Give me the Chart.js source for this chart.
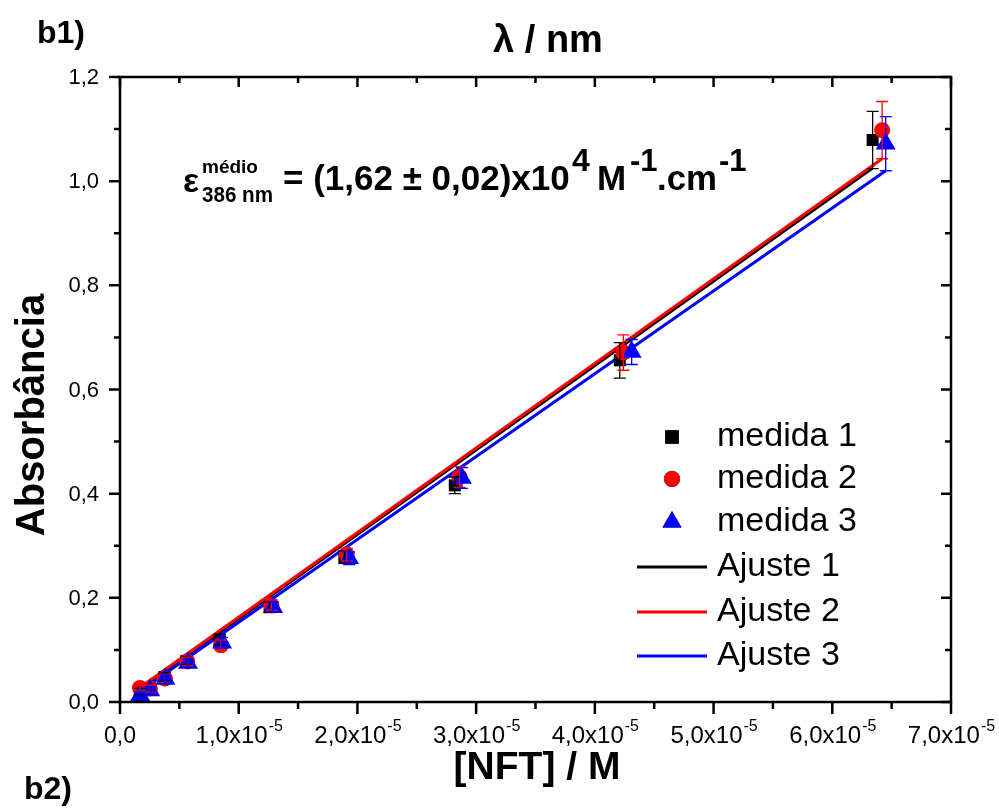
<!DOCTYPE html>
<html>
<head>
<meta charset="utf-8">
<script src="https://cdn.jsdelivr.net/npm/chart.js@4.4.0/dist/chart.umd.min.js"></script>
<style>
  body { margin: 0; background: #fff; }
  canvas { display: block; }
</style>
</head>
<body>
<canvas id="grafico" width="999" height="812"></canvas>
<script>
// concentracoes [NFT] / M e absorbancias
const conc1 = [0.167e-5, 0.25e-5, 0.375e-5, 0.56e-5, 0.84e-5, 1.26e-5, 1.89e-5, 2.82e-5, 4.21e-5, 6.34e-5];
const abs1  = [0.020, 0.027, 0.048, 0.079, 0.120, 0.182, 0.278, 0.416, 0.656, 1.079];
const err1  = [0.006, 0.007, 0.008, 0.008, 0.010, 0.010, 0.012, 0.016, 0.034, 0.055];

const conc2 = [0.168e-5, 0.252e-5, 0.378e-5, 0.567e-5, 0.85e-5, 1.275e-5, 1.91e-5, 2.86e-5, 4.24e-5, 6.42e-5];
const abs2  = [0.027, 0.026, 0.045, 0.078, 0.109, 0.186, 0.283, 0.432, 0.671, 1.098];
const err2  = [0.006, 0.007, 0.008, 0.008, 0.010, 0.010, 0.012, 0.020, 0.034, 0.055];

const conc3 = [0.17e-5, 0.255e-5, 0.382e-5, 0.573e-5, 0.86e-5, 1.29e-5, 1.93e-5, 2.88e-5, 4.31e-5, 6.45e-5];
const abs3  = [0.013, 0.022, 0.044, 0.075, 0.114, 0.182, 0.276, 0.430, 0.672, 1.072];
const err3  = [0.006, 0.007, 0.008, 0.008, 0.010, 0.010, 0.012, 0.020, 0.024, 0.052];

// retas de ajuste (inicio e fim)
const ajusteX1 = [0.167e-5, 6.34e-5];
const ajusteY1 = [0.025, 1.025];
const ajusteX2 = [0.168e-5, 6.42e-5];
const ajusteY2 = [0.028, 1.043];
const ajusteX3 = [0.17e-5, 6.45e-5];
const ajusteY3 = [0.021, 1.020];

const nomesMedidas = ["medida 1", "medida 2", "medida 3"];
const nomesAjustes = ["Ajuste 1", "Ajuste 2", "Ajuste 3"];

const FONTE = "'Liberation Sans', Arial, sans-serif";
const cores = ["#000000", "#ff0000", "#0000ff"];

function pontos(xs, ys) {
  return xs.map((x, i) => ({ x: x, y: ys[i] }));
}

function medida(i, conc, abs, err, estilo, raio) {
  return {
    label: nomesMedidas[i],
    data: pontos(conc, abs),
    erros: err,
    showLine: false,
    pointStyle: estilo,
    pointRadius: raio,
    pointBackgroundColor: cores[i],
    pointBorderColor: cores[i],
    pointBorderWidth: 0,
    order: 2 - i,
  };
}

function ajuste(i, xs, ys) {
  return {
    label: nomesAjustes[i],
    data: pontos(xs, ys),
    showLine: true,
    borderColor: cores[i],
    borderWidth: 3,
    pointRadius: 0,
    order: 5 - i,
  };
}

// barras de erro
const barrasErro = {
  id: "barrasErro",
  afterDatasetsDraw(chart) {
    const ctx = chart.ctx;
    const y = chart.scales.y;
    chart.data.datasets.forEach((ds, i) => {
      if (!ds.erros) return;
      const meta = chart.getDatasetMeta(i);
      ctx.save();
      ctx.strokeStyle = ds.pointBackgroundColor;
      ctx.lineWidth = 1.3;
      meta.data.forEach((pt, j) => {
        const e = ds.erros[j];
        const top = y.getPixelForValue(ds.data[j].y + e);
        const bot = y.getPixelForValue(ds.data[j].y - e);
        ctx.beginPath();
        ctx.moveTo(pt.x, top); ctx.lineTo(pt.x, bot);
        ctx.moveTo(pt.x - 6, top); ctx.lineTo(pt.x + 6, top);
        ctx.moveTo(pt.x - 6, bot); ctx.lineTo(pt.x + 6, bot);
        ctx.stroke();
      });
      ctx.restore();
    });
  }
};

function menores(ticks) {
  const m = [];
  for (let i = 0; i < ticks.length - 1; i++) m.push((ticks[i].value + ticks[i + 1].value) / 2);
  return m;
}

// moldura, marcas e rotulos dos eixos
const eixos = {
  id: "eixos",
  afterDraw(chart) {
    const ctx = chart.ctx;
    const a = chart.chartArea;
    const x = chart.scales.x;
    const y = chart.scales.y;
    ctx.save();
    ctx.strokeStyle = "#000";
    ctx.lineWidth = 2.5;
    ctx.strokeRect(a.left, a.top, a.right - a.left, a.bottom - a.top);

    ctx.beginPath();
    x.ticks.forEach(t => {
      const px = x.getPixelForValue(t.value);
      ctx.moveTo(px, a.bottom); ctx.lineTo(px, a.bottom + 12);
      ctx.moveTo(px, a.top); ctx.lineTo(px, a.top + 10);
    });
    menores(x.ticks).forEach(v => {
      const px = x.getPixelForValue(v);
      ctx.moveTo(px, a.bottom); ctx.lineTo(px, a.bottom + 7);
      ctx.moveTo(px, a.top); ctx.lineTo(px, a.top + 6);
    });
    y.ticks.forEach(t => {
      const py = y.getPixelForValue(t.value);
      ctx.moveTo(a.left, py); ctx.lineTo(a.left - 11, py);
      ctx.moveTo(a.right, py); ctx.lineTo(a.right - 10, py);
    });
    menores(y.ticks).forEach(v => {
      const py = y.getPixelForValue(v);
      ctx.moveTo(a.left, py); ctx.lineTo(a.left - 6, py);
      ctx.moveTo(a.right, py); ctx.lineTo(a.right - 6, py);
    });
    ctx.stroke();

    // rotulos do eixo y
    ctx.fillStyle = "#000";
    ctx.font = "22px " + FONTE;
    ctx.textAlign = "right";
    ctx.textBaseline = "middle";
    y.ticks.forEach(t => {
      ctx.fillText(t.value.toFixed(1).replace(".", ","), a.left - 21, y.getPixelForValue(t.value) + 1);
    });

    // rotulos do eixo x com expoente
    ctx.textBaseline = "alphabetic";
    ctx.textAlign = "left";
    x.ticks.forEach(t => {
      const px = x.getPixelForValue(t.value);
      const base = a.bottom + 41;
      if (Math.abs(t.value) < 1e-12) {
        ctx.font = "23px " + FONTE;
        ctx.textAlign = "center";
        ctx.fillText("0,0", px, base);
        ctx.textAlign = "left";
        return;
      }
      const mant = (t.value / 1e-5).toFixed(1).replace(".", ",") + "x10";
      ctx.font = "24px " + FONTE;
      const w1 = ctx.measureText(mant).width;
      ctx.font = "16px " + FONTE;
      const w2 = ctx.measureText("-5").width;
      const x0 = px - (w1 + w2) / 2;
      ctx.font = "24px " + FONTE;
      ctx.fillText(mant, x0, base);
      ctx.font = "16px " + FONTE;
      ctx.fillText("-5", x0 + w1 + 1, base - 12);
    });
    ctx.restore();
  }
};

// legenda desenhada dentro da area do grafico
const legenda = {
  id: "legenda",
  afterDraw(chart) {
    const ctx = chart.ctx;
    const linhas = [437, 479, 522, 567, 612, 656];
    ctx.save();
    ctx.font = "34px " + FONTE;
    ctx.fillStyle = "#000";
    ctx.textAlign = "left";
    ctx.textBaseline = "middle";
    chart.data.datasets.forEach((ds, i) => {
      const yy = linhas[i];
      if (ds.showLine) {
        ctx.strokeStyle = ds.borderColor;
        ctx.lineWidth = 3;
        ctx.beginPath();
        ctx.moveTo(637, yy); ctx.lineTo(707, yy);
        ctx.stroke();
      } else {
        Chart.helpers.drawPoint(ctx, {
          pointStyle: ds.pointStyle,
          radius: ds.pointStyle === "triangle" ? 11 : (ds.pointStyle === "rect" ? 9.5 : 8),
          borderWidth: 0,
          rotation: 0
        }, 672, yy);
        ctx.fillStyle = ds.pointBackgroundColor;
        ctx.fill();
        ctx.fillStyle = "#000";
      }
      ctx.fillText(ds.label, 717, yy);
    });
    ctx.restore();
  }
};

// titulos e anotacao
const textos = {
  id: "textos",
  afterDraw(chart) {
    const ctx = chart.ctx;
    ctx.save();
    ctx.fillStyle = "#000";
    ctx.textBaseline = "alphabetic";

    ctx.font = "bold 32px " + FONTE;
    ctx.textAlign = "left";
    ctx.fillText("b1)", 37, 43);
    ctx.fillText("b2)", 24, 799);

    ctx.textAlign = "center";
    ctx.font = "bold 38px " + FONTE;
    ctx.fillText("λ / nm", 548, 52);
    ctx.font = "bold 39px " + FONTE;
    ctx.fillText("[NFT] / M", 537, 779);

    ctx.save();
    ctx.translate(44, 415);
    ctx.rotate(-Math.PI / 2);
    ctx.font = "bold 40px " + FONTE;
    ctx.fillText("Absorbância", 0, 0);
    ctx.restore();

    ctx.textAlign = "left";
    ctx.font = "bold 34px " + FONTE;
    ctx.fillText("ε", 183, 192);
    ctx.font = "bold 19px " + FONTE;
    ctx.fillText("médio", 202, 173);
    ctx.font = "bold 22px " + FONTE;
    ctx.fillText("386 nm", 202, 202, 71);
    ctx.font = "bold 35px " + FONTE;
    ctx.fillText("= (1,62 ± 0,02)x10", 283, 190, 287);
    ctx.font = "bold 32px " + FONTE;
    ctx.fillText("4", 572, 171);
    ctx.font = "bold 35px " + FONTE;
    ctx.fillText("M", 597, 190);
    ctx.font = "bold 31px " + FONTE;
    ctx.fillText("-1", 630, 171);
    ctx.font = "bold 35px " + FONTE;
    ctx.fillText(".cm", 657, 190, 60);
    ctx.font = "bold 31px " + FONTE;
    ctx.fillText("-1", 719, 171);
    ctx.restore();
  }
};

function exibirGrafico() {
  const ctx = document.getElementById("grafico").getContext("2d");
  const config = {
    type: "scatter",
    data: {
      datasets: [
        medida(0, conc1, abs1, err1, "rect", 8.5),
        medida(1, conc2, abs2, err2, "circle", 8),
        medida(2, conc3, abs3, err3, "triangle", 11.5),
        ajuste(0, ajusteX1, ajusteY1),
        ajuste(1, ajusteX2, ajusteY2),
        ajuste(2, ajusteX3, ajusteY3),
      ],
    },
    options: {
      responsive: false,
      animation: false,
      devicePixelRatio: 1,
      layout: { padding: { left: 0, top: 77, right: 48, bottom: 0 } },
      plugins: {
        legend: { display: false },
        tooltip: { enabled: false },
      },
      scales: {
        x: {
          type: "linear",
          min: 0,
          max: 7e-5,
          ticks: { stepSize: 1e-5, display: false },
          grid: { display: false },
          border: { display: false },
          afterFit: (s) => { s.height = 110; },
        },
        y: {
          type: "linear",
          min: 0,
          max: 1.2,
          ticks: { stepSize: 0.2, display: false },
          grid: { display: false },
          border: { display: false },
          afterFit: (s) => { s.width = 120; },
        },
      },
    },
    plugins: [barrasErro, eixos, legenda, textos],
  };
  new Chart(ctx, config);
}

exibirGrafico();
</script>
</body>
</html>
